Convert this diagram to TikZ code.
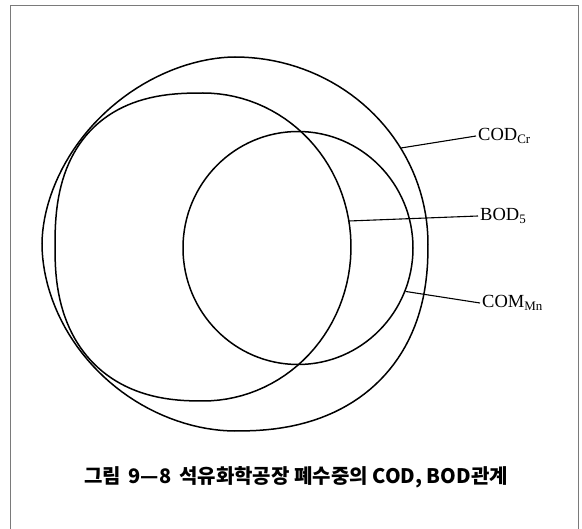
\documentclass[tikz,border=0pt]{standalone}
\usepackage{fontspec}
\setmainfont{Liberation Serif}
\newfontfamily\kofont{Noto Sans CJK KR}
\usepackage{tikz}
\usetikzlibrary{positioning, shapes.geometric}
\definecolor{framegray}{HTML}{7A7A7A}

\tikzset{
  ring/.style={draw, line width=1.5pt, line join=round},
  leader/.style={line width=1.1pt},
  tag/.style={anchor=west, inner sep=2pt, font=\fontsize{18.5}{22}\selectfont}
}

\begin{document}
\begin{tikzpicture}[x=1pt, y=-1pt]
  \useasboundingbox (0,0) rectangle (582,529);
  \draw[framegray, line width=0.8pt] (10,529) -- (10,5) -- (578,5) -- (578,529);

  % COD_Cr
  \draw[ring]
    plot[domain=90:0, samples=40] ({235+193*cos(\x)}, {244-187*sin(\x)})
    -- plot[domain=0:-90, samples=40] ({235+193*pow(abs(cos(\x))+0.00001,0.87)}, {244+187*pow(abs(sin(\x))+0.00001,0.87)})
    -- plot[domain=-90:-180, samples=40] ({235-193*pow(abs(cos(\x))+0.00001,1.05)}, {244+187*pow(abs(sin(\x))+0.00001,1.05)})
    -- plot[domain=180:90, samples=40] ({235-193*pow(abs(cos(\x))+0.00001,1.08)}, {244-187*pow(abs(sin(\x))+0.00001,1.08)})
    -- cycle;
  % BOD_5
  \draw[ring]
    plot[domain=90:-90, samples=60] ({203+148*cos(\x)}, {247-154*sin(\x)})
    -- plot[domain=-90:-180, samples=40] ({203-148*pow(abs(cos(\x))+0.00001,0.84)}, {247+154*pow(abs(sin(\x))+0.00001,0.84)})
    -- plot[domain=180:90, samples=40] ({203-148*pow(abs(cos(\x))+0.00001,0.8)}, {247-154*pow(abs(sin(\x))+0.00001,0.8)})
    -- cycle;
  % COM_Mn
  \node[ring, ellipse, inner sep=0pt, minimum width=230pt, minimum height=233pt]
    (commn) at (298,248) {};

  \coordinate (codhit) at (401,148);
  \coordinate (bodhit) at (349,221);

  \node[tag] (codlbl) at (476,136) {COD\textsubscript{Cr}};
  \node[tag] (bodlbl) at (478,216) {BOD\textsubscript{5}};
  \node[tag] (comlbl) at (480,303) {COM\textsubscript{Mn}};

  \draw[leader] (codhit) -- (codlbl.west);
  \draw[leader] (bodhit) -- (bodlbl.west);
  \draw[leader] (commn.338) -- (comlbl.west);

  \node[font=\kofont\bfseries\fontsize{20}{24}\selectfont] (caption) at (296,477)
    {그림 \,9—8\, 석유화학공장 폐수중의 COD, BOD관계};
\end{tikzpicture}
\end{document}
